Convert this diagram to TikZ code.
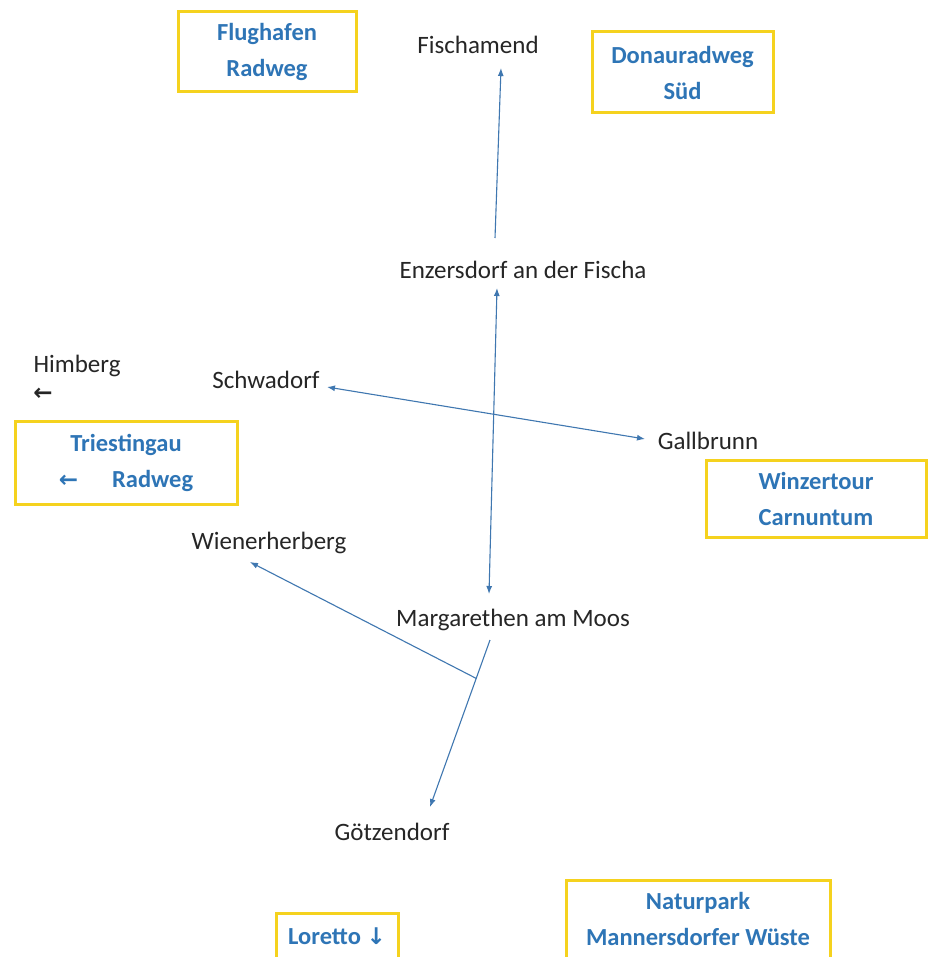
\documentclass[tikz,border=0pt]{standalone}
\usepackage{fontspec}
\setmainfont{Carlito}
\newfontfamily\symfont{DejaVu Sans}
\usetikzlibrary{arrows.meta,calc}
\definecolor{signblue}{HTML}{2E75B6}
\definecolor{signyellow}{HTML}{F5D21E}
\definecolor{lineblue}{HTML}{3F77B0}
\definecolor{txt}{HTML}{262626}
\newcommand{\symarrow}[1]{{\symfont\bfseries\fontsize{23}{24}\selectfont #1}}
\begin{document}
\begin{tikzpicture}[x=1pt,y=-1pt,
 place/.style={font=\fontsize{25}{30}\selectfont, text=txt, inner sep=0pt},
 sign/.style={draw=signyellow, line width=3pt, font=\fontsize{24.5}{36}\selectfont\bfseries, text=signblue, align=center, inner sep=0pt},
 tip/.style={-{Latex[length=8pt,width=6pt]}},
 route/.style={draw=lineblue, line width=1.1pt},
 both/.style={{Latex[length=8pt,width=6pt]}-{Latex[length=8pt,width=6pt]}}]
\useasboundingbox (0,0) rectangle (928,957);
\fill[white] (0,0) rectangle (928,957);

% signs
\node[sign, minimum width=178pt, minimum height=80pt] (flug) at (267,52) {Flughafen\\Radweg};
\node[sign, minimum width=181pt, minimum height=81pt] (donau) at (682.5,72.5) {Donauradweg\\Süd};
\node[sign, minimum width=222pt, minimum height=83pt] (triest) at (126,462.5) {Triestingau\\\symarrow{←}\hspace{34pt}Radweg};
\node[sign, minimum width=220pt, minimum height=77pt] (winzer) at (816,498.5) {Winzertour\\Carnuntum};
\node[sign, minimum width=122pt, minimum height=46pt] (loretto) at (337,936) {Loretto \symarrow{↓}};
\node[sign, minimum width=264pt, minimum height=78pt] (natur) at (698,919) {Naturpark\\Mannersdorfer Wüste};

% places
\node[place] (fisch) at (478,45) {Fischamend};
\node[place] (enz) at (523,270) {Enzersdorf an der Fischa};
\node[place] (himb) at (77,366) {Himberg};
\node[place] (himbarrow) at (43,394) {\symarrow{←}};
\node[place] (schw) at (266,380) {Schwadorf};
\node[place] (gall) at (708,441) {Gallbrunn};
\node[place] (wien) at (269,543) {Wienerherberg};
\node[place] (marg) at (513,620) {Margarethen am Moos};
\node[place] (goetz) at (392,832) {Götzendorf};

% connectors
\draw[route, tip] ([shift={(-28,-32)}]enz.center) -- ([shift={(23,23)}]fisch.center);
\draw[route, both] ([shift={(-26,18)}]enz.center) -- ([shift={(-24,-26)}]marg.center);
\draw[route, both] ([shift={(61,7)}]schw.center) -- ([shift={(-63,-2)}]gall.center);
\draw[route, tip] ([shift={(-23,20)}]marg.center) -- ([shift={(38,-25)}]goetz.center);
\coordinate (junc) at ($([shift={(-23,20)}]marg.center)!0.23!([shift={(38,-25)}]goetz.center)$);
\draw[route, tip] (junc) -- ([shift={(-19,19)}]wien.center);
\end{tikzpicture}
\end{document}
